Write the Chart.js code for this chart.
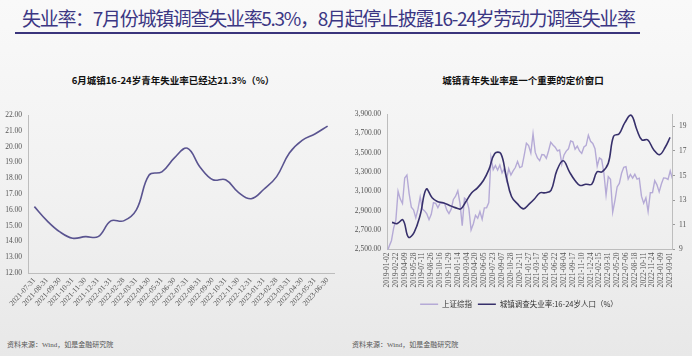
<!DOCTYPE html>
<html>
<head>
<meta charset="utf-8">
<script src="https://cdn.jsdelivr.net/npm/chart.js@4.4.1/dist/chart.umd.min.js"></script>
<style>
  html, body { margin:0; padding:0; }
  body { width:692px; height:356px; position:relative; overflow:hidden;
         background: linear-gradient(to bottom, #f9f9f9 0%, #f1f1f1 55%, #e8e8e8 100%);
         font-family: "Noto Sans CJK SC", "Noto Sans", sans-serif; }
  #mainTitle { position:absolute; left:22px; top:6px; font-size:19px; color:#3b3683;
               letter-spacing:-1.3px; white-space:nowrap; line-height:24px; }
  #rule { position:absolute; left:15px; top:32px; width:625px; height:2px; background:#3a347c; }
  .ctitle { position:absolute; top:73px; font-size:9.5px; font-weight:bold; color:#111;
            white-space:nowrap; text-align:center; line-height:14px; }
  .src { position:absolute; top:339px; font-size:7px; color:#555; white-space:nowrap;
         font-family: "Liberation Serif", "Noto Sans CJK SC", serif; }
  .cw { position:absolute; }
</style>
</head>
<body>
<div id="mainTitle">失业率：7月份城镇调查失业率5.3%，8月起停止披露16-24岁劳动力调查失业率</div>
<div id="rule"></div>
<div class="ctitle" style="left:0;width:346px;">6月城镇16-24岁青年失业率已经达21.3%（%）</div>
<div class="ctitle" style="left:346px;width:354px;">城镇青年失业率是一个重要的定价窗口</div>
<div class="src" style="left:7px;">资料来源：Wind，如是金融研究院</div>
<div class="src" style="left:352px;">资料来源：Wind，如是金融研究院</div>

<div class="cw" style="left:0;top:100px;width:346px;height:210px;"><canvas id="c1"></canvas></div>
<div class="cw" style="left:346px;top:100px;width:346px;height:218px;"><canvas id="c2"></canvas></div>

<script>
// ---------- Left chart data ----------
const leftLabels = ["2021-07-31","2021-08-31","2021-09-30","2021-10-31","2021-11-30","2021-12-31",
  "2022-01-31","2022-02-28","2022-03-31","2022-04-30","2022-05-31","2022-06-30",
  "2022-07-31","2022-08-31","2022-09-30","2022-10-31","2022-11-30","2022-12-31",
  "2023-01-31","2023-02-28","2023-03-31","2023-04-30","2023-05-31","2023-06-30"];
const leftValues = [16.2,15.3,14.6,14.2,14.3,14.3,15.3,15.3,16.0,18.2,18.4,19.3,
  19.9,18.7,17.9,17.9,17.1,16.7,17.3,18.1,19.6,20.4,20.8,21.3];

// ---------- Right chart data ----------
const rightTickLabels = ["2019-01-02","2019-02-22","2019-04-09","2019-05-28","2019-07-11","2019-08-26",
  "2019-10-16","2019-11-29","2020-01-14","2020-03-04","2020-04-20","2020-06-05","2020-07-23",
  "2020-09-07","2020-10-28","2020-12-11","2021-01-27","2021-03-17","2021-05-06","2021-06-22",
  "2021-08-04","2021-09-17","2021-11-10","2021-12-24","2022-02-15","2022-03-31","2022-05-20",
  "2022-07-06","2022-08-18","2022-10-11","2022-11-24","2023-01-09","2023-03-01"];
// SSE composite, sampled 4 times per tick interval
const sseValues = [
  2465,2535,2591,2721, 2804,3102,3021,2975, 3239,3270,3078,2938, 2909,2827,2917,3044,
  2917,2899,2868,2808, 2863,2985,2978,2932, 2978,2981,2978,2909, 2871,2917,3017,3050,
  3106,2976,2746,3030, 3012,2923,2702,2764, 2852,2822,2891,2813, 2930,2931,2985,3450,
  3325,3367,3320,3373, 3292,3338,3217,3336, 3270,3312,3347,3408, 3347,3357,3473,3598,
  3573,3496,3696,3503, 3446,3418,3482,3477, 3441,3518,3608,3580, 3557,3519,3528,3382,
  3477,3517,3540,3621, 3613,3537,3568,3518, 3492,3560,3576,3681, 3618,3595,3541,3361,
  3446,3430,3293,3063, 3252,3225,2886,3005, 3146,3182,3288,3349, 3356,3228,3275,3237,
  3277,3227,3237,3051, 2979,3035,2893,3087, 3089,3211,3168,3095, 3176,3240,3238,3224,
  3312,3230];
const sseSamplesPerTick = 4;
// Urban surveyed unemployment rate, age 16-24 (%), monthly Jan 2019 – Feb 2023
const youthStartMonth = "2019-01";
const youthValues = [
  11.2,11.1,11.4,10.0,10.4,11.8,13.9,13.2,12.9,12.8,12.6,12.4,
  12.3,12.9,13.6,14.0,14.6,15.5,16.8,16.8,15.0,13.3,12.7,12.3,
  12.7,13.1,13.6,13.6,13.8,15.4,16.2,15.3,14.6,14.2,14.3,14.3,
  15.3,15.3,16.0,18.2,18.4,19.3,19.9,18.7,17.9,17.9,17.1,16.7,
  17.3,18.1];
const leftAxisTicks = [2500,2700,2900,3100,3300,3500,3700,3900];
const rightAxisTicks = [9,11,13,15,17,19];

// ---------- helpers ----------
const tickDates = rightTickLabels.map(s => Date.parse(s));
function dateToPos(t) {
  for (let i = 0; i < tickDates.length - 1; i++) {
    if (t >= tickDates[i] && t <= tickDates[i+1]) return i + (t - tickDates[i]) / (tickDates[i+1] - tickDates[i]);
  }
  const n = tickDates.length - 1;
  return n + (t - tickDates[n]) / (tickDates[n] - tickDates[n-1]);
}
const [ys, ms] = youthStartMonth.split('-').map(Number);
const youthPoints = youthValues.map((v, k) => {
  const end = Date.UTC(ys, ms - 1 + k + 1, 0); // month end
  return { x: dateToPos(end), y: v };
});
const ssePoints = sseValues.map((v, i) => ({ x: i / sseSamplesPerTick, y: v }));

const serif = "'Liberation Serif', 'Times New Roman', serif";
const axisColor = '#bdbdbd';
const tickColor = '#555';

// ---------- Left chart ----------
new Chart(document.getElementById('c1'), {
  type: 'line',
  data: { labels: leftLabels,
    datasets: [{ data: leftValues, borderColor: '#5a5490', borderWidth: 1.6,
      pointRadius: 0, tension: 0.4, fill: false }] },
  options: {
    responsive: true, maintainAspectRatio: false, animation: false,
    layout: { padding: { top: 15, left: 0, right: 12, bottom: 0 } },
    plugins: { legend: { display: false }, tooltip: { enabled: false } },
    scales: {
      x: { type: 'category', offset: true,
        grid: { display: false, drawTicks: false },
        border: { display: true, color: axisColor, width: 1 },
        ticks: { autoSkip: false, minRotation: 48, maxRotation: 48, padding: 3,
          color: tickColor, font: { family: serif, size: 7.5 } },
        afterFit: s => { s.height = 37; } },
      y: { min: 12, max: 22,
        grid: { display: false, drawTicks: false },
        border: { display: true, color: axisColor, width: 1 },
        ticks: { stepSize: 1, padding: 6, color: tickColor, font: { family: serif, size: 7.5 },
          callback: v => Number(v).toFixed(2) },
        afterFit: s => { s.width = 28; } }
    }
  }
});

// ---------- Right chart ----------
new Chart(document.getElementById('c2'), {
  type: 'line',
  data: { datasets: [
    { label: '上证综指', data: ssePoints, yAxisID: 'yL', borderColor: '#b5aad6',
      backgroundColor: '#b5aad6', borderWidth: 1.4, pointRadius: 0, tension: 0, order: 2 },
    { label: '城镇调查失业率:16-24岁人口（%）', data: youthPoints, yAxisID: 'yR',
      borderColor: '#37306b', backgroundColor: '#37306b', borderWidth: 1.6,
      pointRadius: 0, tension: 0.4, order: 1 }
  ] },
  options: {
    responsive: true, maintainAspectRatio: false, animation: false, parsing: false,
    layout: { padding: { top: 14, left: 0, right: 0, bottom: 0 } },
    plugins: {
      tooltip: { enabled: false },
      legend: { display: true, position: 'bottom',
        labels: { boxWidth: 18, boxHeight: 1.5, padding: 6, color: '#333',
          font: { family: "'Noto Sans CJK SC', sans-serif", size: 7.5 },
          sort: (a, b) => a.datasetIndex - b.datasetIndex,
          generateLabels: chart => Chart.defaults.plugins.legend.labels.generateLabels(chart)
            .map(l => Object.assign(l, { lineWidth: 0, fillStyle: l.strokeStyle })) } }
    },
    scales: {
      x: { type: 'linear', min: 0, max: 32.2,
        grid: { display: false, drawTicks: false },
        border: { display: true, color: axisColor, width: 1 },
        afterBuildTicks: s => { s.ticks = rightTickLabels.map((_, i) => ({ value: i })); },
        ticks: { autoSkip: false, minRotation: 90, maxRotation: 90, padding: 3,
          color: tickColor, font: { family: serif, size: 7.5 },
          callback: v => rightTickLabels[v] },
        afterFit: s => { s.height = 45; } },
      yL: { position: 'left', min: 2500, max: 3900,
        grid: { display: false, drawTicks: false },
        border: { display: true, color: axisColor, width: 1 },
        afterBuildTicks: s => { s.ticks = leftAxisTicks.map(v => ({ value: v })); },
        ticks: { padding: 6, color: tickColor, font: { family: serif, size: 7.5 },
          callback: v => Number(v).toLocaleString('en-US', { minimumFractionDigits: 2, maximumFractionDigits: 2 }) },
        afterFit: s => { s.width = 41; } },
      yR: { position: 'right', min: 9, max: 20,
        grid: { display: true, drawOnChartArea: false, drawTicks: true, tickLength: 3, color: '#999' },
        border: { display: true, color: axisColor, width: 1 },
        afterBuildTicks: s => { s.ticks = rightAxisTicks.map(v => ({ value: v })); },
        ticks: { padding: 4, color: tickColor, font: { family: serif, size: 7.5 } },
        afterFit: s => { s.width = 20; } }
    }
  }
});
</script>
</body>
</html>
